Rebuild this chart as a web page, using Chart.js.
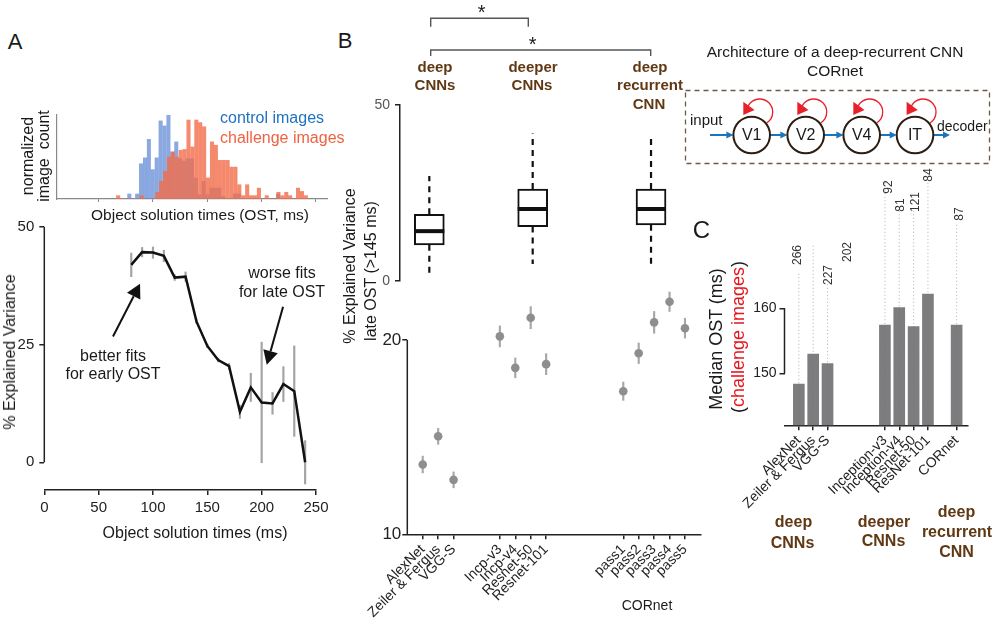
<!DOCTYPE html>
<html><head><meta charset="utf-8">
<script src="https://cdn.jsdelivr.net/npm/chart.js@4.4.1/dist/chart.umd.min.js"></script>
<style>
html,body{margin:0;padding:0;background:#fff;}
#root{position:relative;width:995px;height:620px;overflow:hidden;background:#fff;font-family:"Liberation Sans",Arial,Helvetica,sans-serif;}
canvas{position:absolute;}
.t{position:absolute;white-space:nowrap;line-height:1;transform:translate(-50%,-50%);color:#1a1a1a;}
.tl{position:absolute;white-space:nowrap;line-height:1;transform:translate(0,-50%);color:#1a1a1a;}
.t.r{transform:translate(-50%,-50%) rotate(-90deg);}
</style></head><body><div id="root"></div>
<script>
// ---------------- DATA ----------------
// Panel A, histogram (normalized image count per OST bin, ms)
const histBinsMs = [69.5,73.1,76.7,80.3,83.9,87.5,91.1,94.7,98.3,101.9,105.5,109.1,112.7,116.3,119.9,123.5,127.1,130.7,134.3,137.9,141.5,145.1,148.7,152.3,155.9,159.5,163.1,166.7,170.3,173.9,177.5,181.1,184.7,188.3,191.9,195.5,199.1,202.7,206.3,209.9,213.5,217.1,220.7,224.3,227.9,231.5,235.1,238.7,242.3];
const histControl = [0,0,0.06,0,0.06,0.42,0.49,0.71,0.35,0.49,0.93,0.87,1.0,0.56,0.68,0.48,0.45,0.48,0.48,0.25,0.05,0.21,0.05,0.13,0.13,0.13,0.03,0,0,0.06,0.06,0,0,0,0,0,0,0,0,0,0.06,0,0,0,0,0,0,0,0];
const histChallenge = [0.04,0,0,0,0,0,0.04,0,0,0,0.08,0.21,0.33,0.50,0.56,0.50,0.58,0.59,0.94,0.62,0.94,0.91,0.86,0.25,0.68,0.64,0.46,0.46,0.46,0.38,0.38,0.17,0.04,0.17,0.04,0.04,0.13,0,0.04,0,0,0.08,0.04,0.08,0.04,0,0.13,0.09,0.04];
// Panel A, explained variance vs OST
const ostTimes = [80,90,100,110,120,130,140,150,160,170,180,190,200,210,220,230,240];
const ostEV    = [41.9,44.6,44.5,43.8,39.2,39.4,29.9,24.7,21.7,20.4,10.7,15.9,12.7,12.5,16.6,15.1,0.0];
const ostErr   = [2.5,1.0,1.2,1.2,0.6,1.0,0.4,0.4,0.4,0.6,1.4,3.0,12.8,2.3,3.7,9.6,4.6];
const xTicksA = [0,50,100,150,200,250];
const yTicksA = [0,25,50];
// Panel B, box plots (% explained variance, late OST)
const boxGroups = ['deep CNNs','deeper CNNs','deep recurrent CNN'];
const boxLow  = [1.8, 4.75, 4.75];
const boxQ1   = [10.2, 15.4, 15.9];
const boxMed  = [14.1, 20.4, 20.4];
const boxQ3   = [18.9, 26.1, 26.1];
const boxHigh = [29.8, 41.9, 40.5];
const yTicksBtop = [0,50];
// Panel B, per-model points
const modelsB = ['AlexNet','Zeiler & Fergus','VGG-S','Incp-v3','Incp-v4','Resnet-50','Resnet-101','pass1','pass2','pass3','pass4','pass5'];
const lateEV  = [13.59,15.04,12.8,20.18,18.56,21.14,18.75,17.36,19.31,20.9,21.96,20.6];
const lateErr = [0.43,0.41,0.41,0.54,0.51,0.57,0.54,0.47,0.53,0.56,0.5,0.51];
const yTicksB = [10,20];
// Panel C, median OST of challenge images
const modelsC = ['AlexNet','Zeiler & Fergus','VGG-S','Inception-v3','Inception-v4','Resnet-50','ResNet-101','CORnet'];
const medianOST  = [148.35,152.97,151.5,157.4,160.1,157.2,162.2,157.4];
const spreadTopC = [165.6,169.7,163.9,179.7,175.1,175.4,179.7,173.1];
const countsC    = [266,227,202,92,81,121,84,87];
const yTicksC = [150,160];

// ---------------- LAYOUT (slots on category-like linear axes) ----------------
const slotB = [0,1,2,5,6,7,8,13,14,15,16,17];
const boxSlot = [0.43,7.13,14.8];
const slotC = [0,1,2,6,7,8,9,11];
const yMinC = 142;

Chart.defaults.font.family = '"Liberation Sans", Arial, Helvetica, sans-serif';
Chart.defaults.color = '#222';
const root = document.getElementById('root');

function canvasAt(l,t,w,h){
  const c=document.createElement('canvas');
  c.width=w; c.height=h;
  c.style.left=l+'px'; c.style.top=t+'px'; c.style.width=w+'px'; c.style.height=h+'px';
  root.appendChild(c); return c;
}
function mk(box, area, cfg){
  const c = canvasAt(box.l, box.t, box.w, box.h);
  const o = cfg.options;
  const xDisp = o.scales.x.display !== false;
  o.responsive=false; o.maintainAspectRatio=false; o.animation=false; o.devicePixelRatio=1;
  o.layout={padding:{left:0, top: area.T-box.t, right: box.l+box.w-area.R, bottom: xDisp?0:(box.t+box.h-area.B)}};
  o.scales.y.afterFit = s=>{ s.width = area.L-box.l; s.paddingTop=0; s.paddingBottom=0; };
  if (xDisp) o.scales.x.afterFit = s=>{ s.height = box.t+box.h-area.B; s.paddingLeft=0; s.paddingRight=0; };
  o.plugins = Object.assign({legend:{display:false}, tooltip:{enabled:false}}, o.plugins||{});
  return new Chart(c, cfg);
}
const setTicks = arr => s => { s.ticks = arr.map(v=>({value:v})); };
const partialY = { id:'partialY', afterDraw(chart, args, o){
  if (o.from===undefined) return;
  const y=chart.scales.y, ctx=chart.ctx, x=chart.chartArea.left;
  ctx.save(); ctx.strokeStyle=o.color||'#222'; ctx.lineWidth=o.width||1.5;
  ctx.beginPath(); ctx.moveTo(x, y.getPixelForValue(o.from)); ctx.lineTo(x, y.getPixelForValue(o.to)); ctx.stroke(); ctx.restore();
}};

// ---------- Panel A: histogram ----------
mk({l:0,t:100,w:340,h:110},{L:57,T:115,R:327,B:199},{
  type:'bar',
  data:{datasets:[
    {label:'control images', data:histBinsMs.map((x,i)=>({x,y:histControl[i]})), backgroundColor:'rgba(100,140,215,0.75)', barThickness:3.4, order:2},
    {label:'challenge images', data:histBinsMs.map((x,i)=>({x,y:histChallenge[i]})), backgroundColor:'rgba(243,108,72,0.8)', barThickness:3.4, order:1}
  ]},
  options:{scales:{
    x:{type:'linear', offset:false, min:11.7, max:260.2, afterBuildTicks:setTicks([50,100,150,200,250]),
       ticks:{display:false}, grid:{offset:false, drawOnChartArea:false, tickLength:3, color:'#8a8a8a'}, border:{display:true,color:'#8a8a8a',width:1.2}},
    y:{min:0, max:1.0, ticks:{display:false}, grid:{display:false}, border:{display:true,color:'#8a8a8a',width:1.2}}
  }}
});

// ---------- Panel A: explained variance ----------
const arrowsA = [{from:[63.2,26.7], to:[88.1,37.9]}, {from:[219.7,33.0], to:[204.7,20.7]}];
const arrowPlugin = { id:'arrowsA', afterDatasetsDraw(chart){
  const {ctx, scales:{x,y}} = chart;
  ctx.save(); ctx.strokeStyle='#111'; ctx.fillStyle='#111'; ctx.lineWidth=2;
  arrowsA.forEach(a=>{
    const x1=x.getPixelForValue(a.from[0]), y1=y.getPixelForValue(a.from[1]);
    const x2=x.getPixelForValue(a.to[0]), y2=y.getPixelForValue(a.to[1]);
    const ang=Math.atan2(y2-y1,x2-x1), hl=14, hw=7.5;
    const bx=x2-hl*Math.cos(ang), by=y2-hl*Math.sin(ang);
    ctx.beginPath(); ctx.moveTo(x1,y1); ctx.lineTo(bx,by); ctx.stroke();
    ctx.beginPath(); ctx.moveTo(x2,y2);
    ctx.lineTo(bx+hw*Math.sin(ang), by-hw*Math.cos(ang));
    ctx.lineTo(bx-hw*Math.sin(ang), by+hw*Math.cos(ang)); ctx.closePath(); ctx.fill();
  });
  ctx.restore();
}};
mk({l:0,t:215,w:330,h:320},{L:44.3,T:226.7,R:316,B:490},{
  type:'bar',
  data:{datasets:[
    {type:'line', data:ostTimes.map((x,i)=>({x,y:ostEV[i]})), borderColor:'#111', borderWidth:2.5, pointRadius:0, tension:0, order:1, clip:false},
    {type:'bar', data:ostTimes.map((x,i)=>({x,y:[ostEV[i]-ostErr[i], ostEV[i]+ostErr[i]]})), backgroundColor:'#a3a3a3', barThickness:1.5, order:2, clip:false}
  ]},
  options:{scales:{
    x:{type:'linear', offset:false, min:0, max:250, afterBuildTicks:setTicks(xTicksA),
       ticks:{font:{size:15}, padding:4, color:'#222', maxRotation:0}, grid:{offset:false, drawOnChartArea:false, tickLength:5, color:'#222', lineWidth:1.5}, border:{display:true,color:'#222',width:1.5}},
    y:{min:-5.88, max:50, afterBuildTicks:setTicks(yTicksA), ticks:{font:{size:15}, padding:5, color:'#222'},
       grid:{drawOnChartArea:false, tickLength:5, color:'#222', lineWidth:1.5}, border:{display:false}}
  }, plugins:{partialY:{from:0,to:50,width:1.5}}},
  plugins:[partialY, arrowPlugin]
});

// ---------- Panel B: box plots ----------
const boxPlugin = { id:'boxExtras',
  beforeDatasetsDraw(chart){
    const {ctx, scales:{x,y}} = chart;
    ctx.save(); ctx.strokeStyle='#111'; ctx.lineWidth=2.2; ctx.setLineDash([6,5]);
    boxSlot.forEach((s,i)=>{
      const px=x.getPixelForValue(s);
      ctx.beginPath();
      ctx.moveTo(px, y.getPixelForValue(boxQ3[i])); ctx.lineTo(px, y.getPixelForValue(boxHigh[i]));
      ctx.moveTo(px, y.getPixelForValue(boxQ1[i])); ctx.lineTo(px, y.getPixelForValue(boxLow[i]));
      ctx.stroke();
    });
    ctx.restore();
  },
  afterDatasetsDraw(chart){
    const {ctx, scales:{x,y}} = chart;
    ctx.save(); ctx.strokeStyle='#111'; ctx.lineWidth=4;
    boxSlot.forEach((s,i)=>{
      const px=x.getPixelForValue(s), py=y.getPixelForValue(boxMed[i]);
      ctx.beginPath(); ctx.moveTo(px-15,py); ctx.lineTo(px+15,py); ctx.stroke();
    });
    ctx.restore();
  }
};
mk({l:330,t:95,w:380,h:195},{L:400,T:105,R:700.4,B:280.7},{
  type:'bar',
  data:{labels:boxGroups, datasets:[
    {data:boxSlot.map((x,i)=>({x,y:[boxQ1[i],boxQ3[i]]})), backgroundColor:'#fff', borderColor:'#111', borderWidth:2, borderSkipped:false, barThickness:30, clip:false}
  ]},
  options:{scales:{
    x:{type:'linear', display:false, offset:false, min:-1.47, max:18},
    y:{min:0, max:50, afterBuildTicks:setTicks(yTicksBtop), ticks:{font:{size:14}, padding:5, color:'#555'},
       grid:{drawOnChartArea:false, tickLength:5, color:'#222', lineWidth:1.5}, border:{display:true,color:'#222',width:1.5}}
  }},
  plugins:[boxPlugin]
});

// ---------- Panel B: per-model points ----------
mk({l:330,t:285,w:380,h:335},{L:407.3,T:288.6,R:700.4,B:534.3},{
  type:'bar',
  data:{datasets:[
    {type:'scatter', data:slotB.map((x,i)=>({x,y:lateEV[i]})), pointRadius:4.3, pointBackgroundColor:'#8e8e8e', pointBorderWidth:0, order:1, clip:false},
    {type:'bar', data:slotB.map((x,i)=>({x,y:[lateEV[i]-lateErr[i], lateEV[i]+lateErr[i]]})), backgroundColor:'#a8a8a8', barThickness:1.5, order:2, clip:false}
  ]},
  options:{scales:{
    x:{type:'linear', offset:false, min:-1, max:18, afterBuildTicks:setTicks(slotB),
       ticks:{autoSkip:false, minRotation:45, maxRotation:45, font:{size:14}, padding:2, color:'#222', callback:(v,i)=>modelsB[i]},
       grid:{offset:false, drawOnChartArea:false, tickLength:5, color:'#222', lineWidth:1.5}, border:{display:true,color:'#222',width:1.5}},
    y:{min:10, max:22.6, afterBuildTicks:setTicks(yTicksB), ticks:{font:{size:17}, padding:1, color:'#222'},
       grid:{drawOnChartArea:false, tickLength:5, color:'#222', lineWidth:1.5}, border:{display:false}}
  }, plugins:{partialY:{from:10,to:20,width:1.5}}},
  plugins:[partialY]
});

// ---------- Panel C ----------
const spreadSets = slotC.map((s,i)=>({type:'line', data:[{x:s,y:yMinC},{x:s,y:spreadTopC[i]}], borderColor:'rgba(110,110,110,0.55)', borderWidth:1, borderDash:[1,2.5], pointRadius:0, order:0, clip:false}));
mk({l:690,t:165,w:305,h:455},{L:784.5,T:175,R:968.1,B:425.3},{
  type:'bar',
  data:{datasets:[
    {type:'bar', data:slotC.map((x,i)=>({x,y:medianOST[i]})), base:yMinC, backgroundColor:'#7d7d7f', barThickness:11, order:5}
  ].concat(spreadSets)},
  options:{scales:{
    x:{type:'linear', offset:false, min:-1, max:11.8, afterBuildTicks:setTicks(slotC),
       ticks:{autoSkip:false, minRotation:45, maxRotation:45, font:{size:14}, padding:2, color:'#222', callback:(v,i)=>modelsC[i]},
       grid:{offset:false, drawOnChartArea:false, tickLength:5, color:'#222', lineWidth:1.5}, border:{display:true,color:'#222',width:1.5}},
    y:{min:yMinC, max:180.5, afterBuildTicks:setTicks(yTicksC), ticks:{font:{size:14}, padding:3, color:'#222'},
       grid:{drawOnChartArea:false, tickLength:5, color:'#222', lineWidth:1.5}, border:{display:false}}
  }, plugins:{partialY:{from:150,to:160,width:1.5}}},
  plugins:[partialY]
});

// ---------- Decorations: brackets and CORnet diagram ----------
(function(){
  const c=canvasAt(420,5,250,60); const g=c.getContext('2d'); g.translate(-420,-5);
  g.strokeStyle='#555'; g.lineWidth=1.4;
  g.beginPath(); g.moveTo(430.7,26.7); g.lineTo(430.7,18.3); g.lineTo(528.3,18.3); g.lineTo(528.3,26.7); g.stroke();
  g.beginPath(); g.moveTo(430.7,56); g.lineTo(430.7,50); g.lineTo(650.7,50); g.lineTo(650.7,56); g.stroke();
})();
(function(){
  const L=680,T=85,W=315,H=85;
  const c=canvasAt(L,T,W,H); const g=c.getContext('2d'); g.translate(-L,-T);
  g.strokeStyle='#6b5a4a'; g.lineWidth=1.3; g.setLineDash([5,4]); g.strokeRect(685.5,90.5,304,73); g.setLineDash([]);
  const cy=135, r=18.3, cxs=[751.7,805.7,861.7,915];
  function arrow(x1,x2){
    g.strokeStyle='#1b75bc'; g.fillStyle='#1b75bc'; g.lineWidth=2;
    g.beginPath(); g.moveTo(x1,cy); g.lineTo(x2-5,cy); g.stroke();
    g.beginPath(); g.moveTo(x2,cy); g.lineTo(x2-7,cy-3.5); g.lineTo(x2-7,cy+3.5); g.closePath(); g.fill();
  }
  arrow(710,cxs[0]-r); arrow(cxs[0]+r,cxs[1]-r); arrow(cxs[1]+r,cxs[2]-r); arrow(cxs[2]+r,cxs[3]-r); arrow(cxs[3]+r,950);
  cxs.forEach(cx=>{
    g.strokeStyle='#e8202a'; g.lineWidth=1.3;
    g.beginPath(); g.arc(cx+8,cy-23,13,Math.PI,Math.PI*2+1.0); g.stroke();
    g.fillStyle='#e8202a'; g.beginPath(); g.moveTo(cx-8.4,cy-33.3); g.lineTo(cx-8.4,cy-20); g.lineTo(cx+2.8,cy-25); g.closePath(); g.fill();
    g.strokeStyle='#2b1d12'; g.lineWidth=2; g.fillStyle='#fff';
    g.beginPath(); g.arc(cx,cy,r,0,Math.PI*2); g.fill(); g.stroke();
  });
})();

// ---------- Text ----------
function txt(s,x,y,o){
  o=o||{};
  const d=document.createElement('div');
  d.className = o.left ? 'tl' : ('t'+(o.rot?' r':''));
  d.style.left=x+'px'; d.style.top=y+'px'; d.style.fontSize=(o.size||15)+'px';
  if(o.color) d.style.color=o.color;
  if(o.bold) d.style.fontWeight='bold';
  if(o.html) d.innerHTML=s; else d.textContent=s;
  root.appendChild(d);
}
const brown='#603813';
txt('A',15,42,{size:22});
txt('normalized',28,156,{size:16,rot:true});
txt('image\u00a0\u00a0count',44,156,{size:16,rot:true});
txt('control images',220,118.3,{size:16,left:true,color:'#1f72c0'});
txt('challenge images',220,138.3,{size:16,left:true,color:'#ef6242'});
txt('Object solution times (OST, ms)',200,215,{size:15.5});
txt('% Explained Variance',10,352,{size:16,rot:true});
txt('Object solution times (ms)',195,533,{size:16});
txt('better fits',113,355.7,{size:16});
txt('for early OST',113,374,{size:16});
txt('worse fits',282,273,{size:16});
txt('for late OST',282,291.7,{size:16});

txt('B',345,41,{size:22});
txt('*',481.7,12,{size:20});
txt('*',532.7,44,{size:20});
txt('deep',435,66,{size:15,bold:true,color:brown});
txt('CNNs',435,84,{size:15,bold:true,color:brown});
txt('deeper',533,66,{size:15,bold:true,color:brown});
txt('CNNs',532,84,{size:15,bold:true,color:brown});
txt('deep',650,66,{size:15,bold:true,color:brown});
txt('recurrent',650,84,{size:15,bold:true,color:brown});
txt('CNN',649,103,{size:15,bold:true,color:brown});
txt('% Explained Variance',350,266,{size:16,rot:true});
txt('late OST (>145 ms)',371,271,{size:16,rot:true});
txt('CORnet',647,605,{size:14});

txt('Architecture of a deep-recurrent CNN',835,51.7,{size:15.5});
txt('CORnet',835,71,{size:15.5});
txt('input',690,119.3,{size:15,left:true});
txt('decoder',937,126,{size:14,left:true});
['V1','V2','V4','IT'].forEach((s,i)=>txt(s,[751.7,805.7,861.7,915][i],135,{size:16}));

txt('C',701.5,229.5,{size:24});
txt('Median OST (ms)',716,339,{size:18,rot:true});
txt('(<span style="color:#e8141c">challenge images</span>)',738,337,{size:18,rot:true,html:true});
const countPos = [[797,255],[828,275],[847,252],[888,187],[899.5,205],[915,202],[928,175],[959,214]];
countsC.forEach((n,i)=>txt(String(n),countPos[i][0],countPos[i][1],{size:12,rot:true,color:'#333'}));
txt('deep',793.5,522,{size:16,bold:true,color:brown});
txt('CNNs',792.5,543,{size:16,bold:true,color:brown});
txt('deeper',884,522,{size:16,bold:true,color:brown});
txt('CNNs',883.5,541,{size:16,bold:true,color:brown});
txt('deep',956.5,512,{size:16,bold:true,color:brown});
txt('recurrent',957,532,{size:16,bold:true,color:brown});
txt('CNN',956.5,551.5,{size:16,bold:true,color:brown});
</script></body></html>
